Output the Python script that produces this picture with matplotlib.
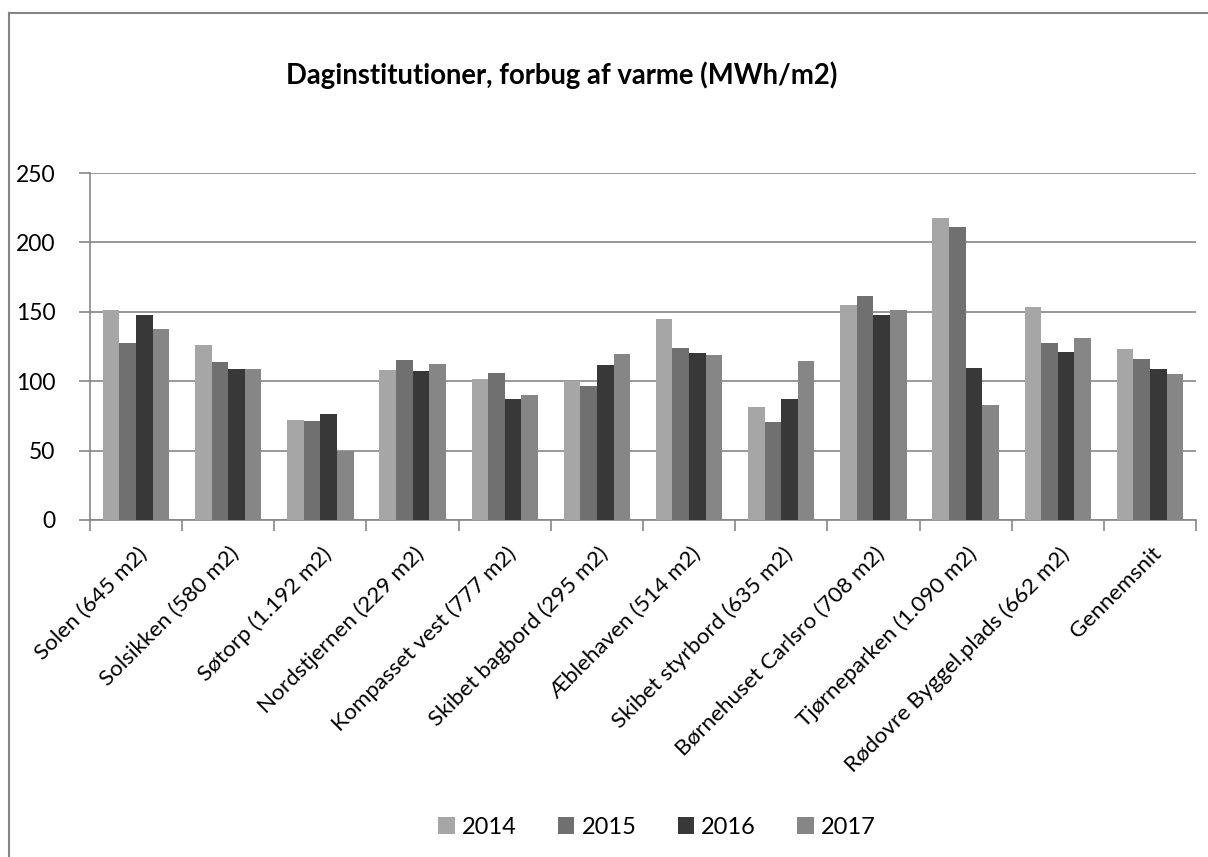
import matplotlib
matplotlib.use("Agg")
import matplotlib.pyplot as plt
import numpy as np
from matplotlib.lines import Line2D
from matplotlib.patches import Patch

plt.rcParams['font.family'] = ['Lato', 'DejaVu Sans']

categories = ["Solen (645 m2)", "Solsikken (580 m2)", "Søtorp (1.192 m2)",
              "Nordstjernen (229 m2)", "Kompasset vest (777 m2)",
              "Skibet bagbord (295 m2)", "Æblehaven (514 m2)",
              "Skibet styrbord (635 m2)", "Børnehuset Carlsro (708 m2)",
              "Tjørneparken (1.090 m2)", "Rødovre Byggel.plads (662 m2)",
              "Gennemsnit"]
years = ["2014", "2015", "2016", "2017"]
v2014 = [151.6, 125.9, 71.9, 107.9, 101.4, 100.0, 144.6, 81.5, 154.7, 217.7, 153.2, 123.0]
v2015 = [127.8, 113.7, 71.5, 115.1, 106.2, 96.6, 124.2, 70.7, 161.6, 211.0, 127.8, 116.1]
v2016 = [147.5, 108.6, 76.7, 107.2, 87.5, 112.0, 120.4, 87.3, 147.7, 109.6, 120.9, 108.9]
v2017 = [137.9, 108.9, 49.9, 112.2, 89.7, 119.9, 118.7, 114.6, 151.3, 83.2, 130.9, 105.3]
series = [v2014, v2015, v2016, v2017]
colors = ["#a6a6a6", "#707070", "#383838", "#868686"]
title = "Daginstitutioner, forbug af varme (MWh/m2)"

W, H = 1208, 857
fig = plt.figure(figsize=(W / 100, H / 100), dpi=100)
ax = fig.add_axes([90 / W, 1 - 520 / H, (1196 - 90) / W, (520 - 173) / H])

n = len(categories)
x = np.arange(n)
bw = 0.18
for i, (vals, c) in enumerate(zip(series, colors)):
    ax.bar(x + (i - 1.5) * bw, vals, width=bw, color=c, edgecolor='none', zorder=3)

ax.set_xlim(-0.5, n - 0.5)
ax.set_ylim(0, 250)
ax.set_yticks(np.arange(0, 251, 50))
ax.yaxis.grid(True, color='#868686', linewidth=1.2, zorder=0)
ax.set_axisbelow(True)

ax.set_xticks(x)
ax.set_xticklabels(categories, rotation=45, ha='right', rotation_mode='anchor', fontsize=16.2)
ax.set_xticks(np.arange(-0.5, n, 1), minor=True)
ax.tick_params(axis='x', which='major', length=0, pad=17)
ax.tick_params(axis='x', which='minor', length=8, width=1.2, color='#868686')
ax.tick_params(axis='y', length=8, width=1.2, color='#868686', labelsize=16.5, pad=17)
for lab in ax.get_xticklabels():
    lab.set_transform(lab.get_transform() + matplotlib.transforms.ScaledTranslation(1 / 100, 0, fig.dpi_scale_trans))

for s in ['top', 'right']:
    ax.spines[s].set_visible(False)
for s in ['left', 'bottom']:
    ax.spines[s].set_color('#868686')
    ax.spines[s].set_linewidth(1.2)

fig.text(562 / W, 1 - 75 / H, title, ha='center', va='center', fontsize=19.8, fontweight='bold')

handles = [Patch(facecolor=c, edgecolor='none') for c in colors]
fig.legend(handles, years, loc='center', bbox_to_anchor=(657 / W, 1 - 827 / H),
           ncol=4, frameon=False, fontsize=17, handlelength=0.7, handleheight=0.7,
           columnspacing=1.75, handletextpad=0.3)

# chart border (left and top visible)
fig.add_artist(Line2D([8.5 / W, 8.5 / W], [0, 1 - 12.5 / H], transform=fig.transFigure,
                      color='#868686', linewidth=1.5))
fig.add_artist(Line2D([8.5 / W, 1], [1 - 12.5 / H, 1 - 12.5 / H], transform=fig.transFigure,
                      color='#868686', linewidth=1.5))

fig.savefig("out.png", dpi=100, facecolor='white')
